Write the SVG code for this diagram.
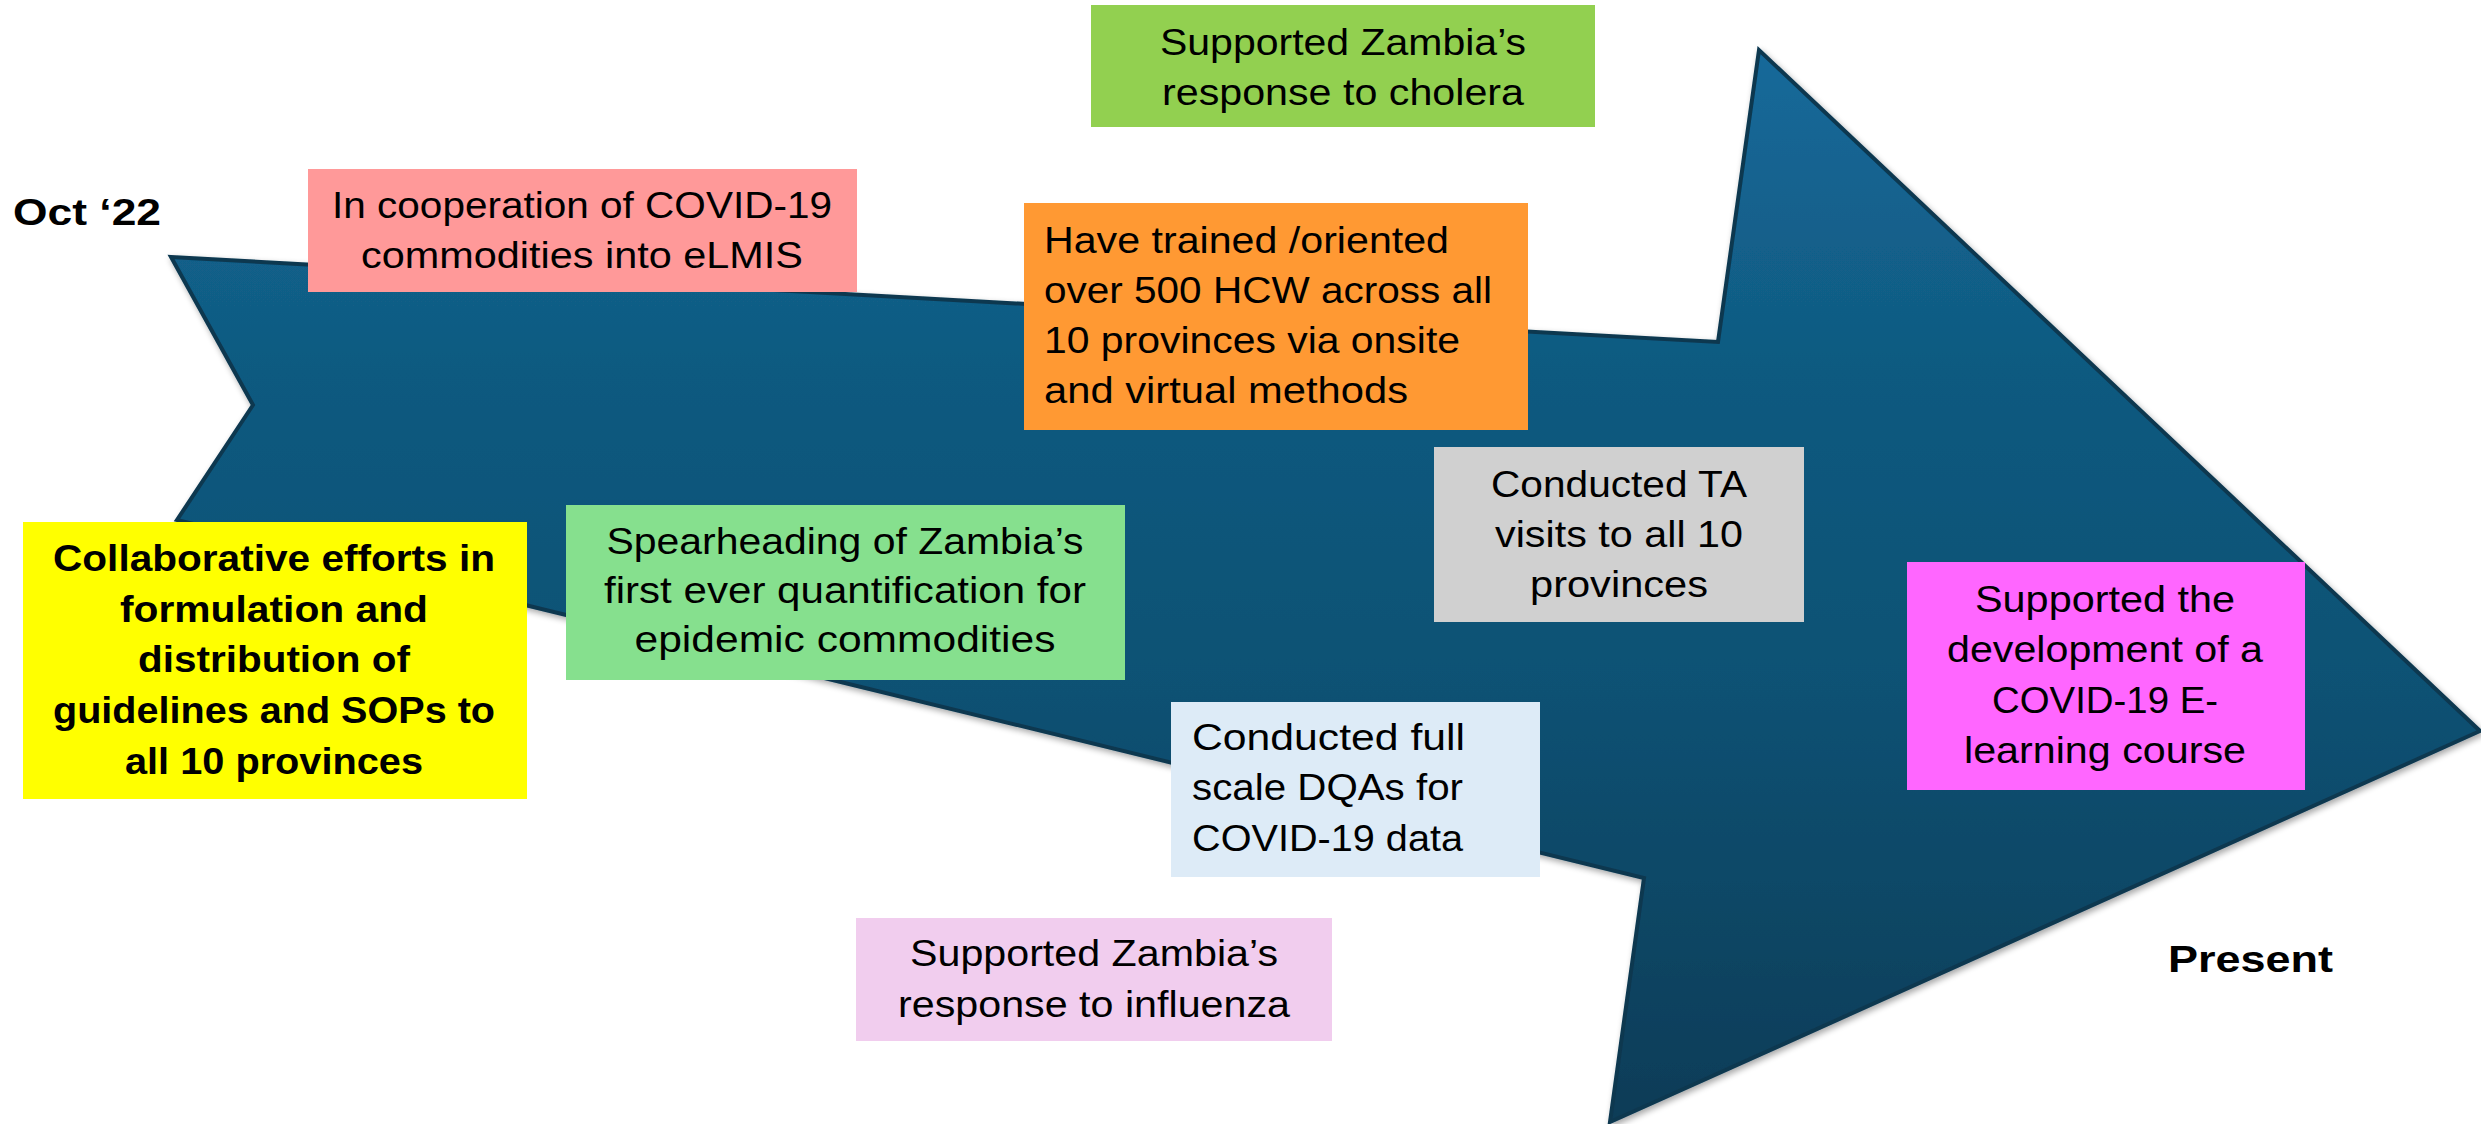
<svg xmlns="http://www.w3.org/2000/svg" width="2481" height="1124" viewBox="0 0 2481 1124">
<defs>
<linearGradient id="arrowFill" gradientUnits="userSpaceOnUse" x1="0" y1="50" x2="0" y2="1124">
<stop offset="0" stop-color="#15699a"/>
<stop offset="0.3" stop-color="#105a80"/>
<stop offset="0.6" stop-color="#0f5173"/>
<stop offset="1" stop-color="#0b3c57"/>
</linearGradient>
<filter id="shadow" x="-5%" y="-5%" width="110%" height="110%">
<feGaussianBlur in="SourceAlpha" stdDeviation="3"/>
<feOffset dx="2" dy="3"/>
<feComponentTransfer><feFuncA type="linear" slope="0.35"/></feComponentTransfer>
<feMerge><feMergeNode/><feMergeNode in="SourceGraphic"/></feMerge>
</filter>
</defs>
<style>
.t{font-family:"Liberation Sans Narrow","Liberation Sans",Arial,sans-serif;font-size:37px;fill:#000}
.b{font-weight:bold}
.c{text-anchor:middle}
</style>
<rect width="2481" height="1124" fill="#ffffff"/>
<g id="timeline-arrow">
<polygon points="171,257 1718,342 1759,50 2480,731 1610,1122 1644,878 177,520 253,405" fill="url(#arrowFill)" stroke="#0a3750" stroke-width="4" stroke-linejoin="miter" filter="url(#shadow)"/>
</g>
<g id="connectors"/>
<g id="label-oct22">
<text class="t b" x="13" y="225" font-size="42" textLength="148" lengthAdjust="spacingAndGlyphs">Oct ‘22</text>
</g>
<g id="label-present">
<text class="t b" x="2168" y="972" font-size="42" textLength="165" lengthAdjust="spacingAndGlyphs">Present</text>
</g>
<g id="node-elmis">
<rect x="308" y="169" width="549" height="123" fill="#ff9999"/>
<text class="t c" x="582" y="218" textLength="500" lengthAdjust="spacingAndGlyphs">In cooperation of COVID-19</text>
<text class="t c" x="582" y="268" textLength="442" lengthAdjust="spacingAndGlyphs">commodities into eLMIS</text>
</g>
<g id="node-cholera">
<rect x="1091" y="5" width="504" height="122" fill="#92d050"/>
<text class="t c" x="1343" y="55" textLength="366" lengthAdjust="spacingAndGlyphs">Supported Zambia’s</text>
<text class="t c" x="1343" y="105" textLength="362" lengthAdjust="spacingAndGlyphs">response to cholera</text>
</g>
<g id="node-training">
<rect x="1024" y="203" width="504" height="227" fill="#ff9933"/>
<text class="t" x="1044" y="253" textLength="405" lengthAdjust="spacingAndGlyphs">Have trained /oriented</text>
<text class="t" x="1044" y="303" textLength="448" lengthAdjust="spacingAndGlyphs">over 500 HCW across all</text>
<text class="t" x="1044" y="353" textLength="416" lengthAdjust="spacingAndGlyphs">10 provinces via onsite</text>
<text class="t" x="1044" y="403" textLength="364" lengthAdjust="spacingAndGlyphs">and virtual methods</text>
</g>
<g id="node-ta-visits">
<rect x="1434" y="447" width="370" height="175" fill="#d0d0d0"/>
<text class="t c" x="1619" y="497" textLength="256" lengthAdjust="spacingAndGlyphs">Conducted TA</text>
<text class="t c" x="1619" y="547" textLength="248" lengthAdjust="spacingAndGlyphs">visits to all 10</text>
<text class="t c" x="1619" y="597" textLength="178" lengthAdjust="spacingAndGlyphs">provinces</text>
</g>
<g id="node-guidelines">
<rect x="23" y="522" width="504" height="277" fill="#ffff00"/>
<text class="t b c" x="274" y="571" textLength="442" lengthAdjust="spacingAndGlyphs">Collaborative efforts in</text>
<text class="t b c" x="274" y="622" textLength="308" lengthAdjust="spacingAndGlyphs">formulation and</text>
<text class="t b c" x="274" y="672" textLength="272" lengthAdjust="spacingAndGlyphs">distribution of</text>
<text class="t b c" x="274" y="723" textLength="442" lengthAdjust="spacingAndGlyphs">guidelines and SOPs to</text>
<text class="t b c" x="274" y="774" textLength="298" lengthAdjust="spacingAndGlyphs">all 10 provinces</text>
</g>
<g id="node-quantification">
<rect x="566" y="505" width="559" height="175" fill="#86e08e"/>
<text class="t c" x="845" y="554" textLength="477" lengthAdjust="spacingAndGlyphs">Spearheading of Zambia’s</text>
<text class="t c" x="845" y="603" textLength="482" lengthAdjust="spacingAndGlyphs">first ever quantification for</text>
<text class="t c" x="845" y="652" textLength="421" lengthAdjust="spacingAndGlyphs">epidemic commodities</text>
</g>
<g id="node-dqa">
<rect x="1171" y="702" width="369" height="175" fill="#ddebf7"/>
<text class="t" x="1192" y="750" textLength="273" lengthAdjust="spacingAndGlyphs">Conducted full</text>
<text class="t" x="1192" y="800" textLength="271" lengthAdjust="spacingAndGlyphs">scale DQAs for</text>
<text class="t" x="1192" y="851" textLength="271" lengthAdjust="spacingAndGlyphs">COVID-19 data</text>
</g>
<g id="node-influenza">
<rect x="856" y="918" width="476" height="123" fill="#f1cdee"/>
<text class="t c" x="1094" y="966" textLength="368" lengthAdjust="spacingAndGlyphs">Supported Zambia’s</text>
<text class="t c" x="1094" y="1017" textLength="392" lengthAdjust="spacingAndGlyphs">response to influenza</text>
</g>
<g id="node-elearning">
<rect x="1907" y="562" width="398" height="228" fill="#ff66ff"/>
<text class="t c" x="2105" y="612" textLength="260" lengthAdjust="spacingAndGlyphs">Supported the</text>
<text class="t c" x="2105" y="662" textLength="316" lengthAdjust="spacingAndGlyphs">development of a</text>
<text class="t c" x="2105" y="713" textLength="226" lengthAdjust="spacingAndGlyphs">COVID-19 E-</text>
<text class="t c" x="2105" y="763" textLength="282" lengthAdjust="spacingAndGlyphs">learning course</text>
</g>
</svg>
